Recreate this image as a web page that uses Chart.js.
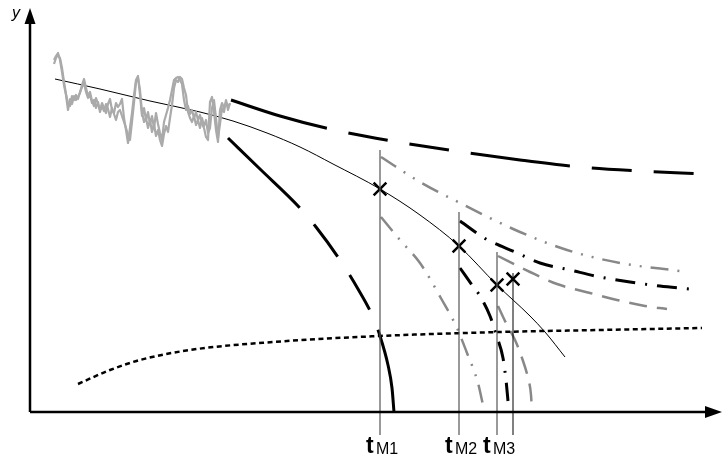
<!DOCTYPE html>
<html>
<head>
<meta charset="utf-8">
<script src="https://cdn.jsdelivr.net/npm/chart.js@4/dist/chart.umd.min.js"></script>
<style>
  html, body { margin: 0; padding: 0; background: #fff; }
  #wrap { width: 724px; height: 462px; }
</style>
</head>
<body>
<div id="wrap"><canvas id="c" width="724" height="462"></canvas></div>
<script>
// Measured history (two gray records), shared time grid
const histT = [24,26,28,30,32,34,36,38,40,42,44,46,48,50,52,54,56,58,60,62,64,66,68,70,72,74,76,78,80,82,84,86,88,90,92,94,96,98,100,102,104,106,108,110,112,114,116,118,120,122,124,126,128,130,132,134,136,138,140,142,144,146,148,150,152,154,156,158,160,162,164,166,168,170,172,174,176,178,180,182,184,186,188,190,192,194,196,198,200];
const histA = [352,356,359,352,340,327,317,302,313,308,316,312,315,319,327,333,324,316,320,311,306,314,308,302,309,304,299,308,313,302,299,309,305,308,313,294,282,269,284,299,317,332,336,317,296,304,292,300,288,296,284,299,288,279,272,290,297,304,312,322,332,334,335,332,328,312,302,306,298,302,294,300,292,297,288,284,275,272,310,315,300,282,270,302,309,304,310,306,308];
const histB = [348,354,357,354,344,330,318,308,306,316,312,317,313,320,325,329,320,314,317,309,312,304,310,300,306,301,308,303,295,304,298,292,300,302,296,290,284,277,272,290,309,330,334,322,300,290,294,284,292,280,288,276,282,272,266,278,286,280,294,307,324,332,330,335,333,324,317,300,294,290,296,287,292,284,294,286,292,279,284,304,312,294,274,288,304,300,312,302,309];

// Fitted trend
const trendT = [25,70,120,170,203,237,270,303,350,390,429,467,500,515,535];
const trendY = [333,323,311,300,291,279,265,248,223,197,166,127,96,80,55];

// Upper and lower envelope from the end of history
const upperT = [201,250,300,362,425,490,550,610,672];
const upperY = [312,296,283,271,261,252,245,241,238];
const lowerT = [198,230,270,286,310,328,342,350,358,362,364];
const lowerY = [274,243,204,185,152,123,97,76,47,24,0];

// Threshold curve
const limitT = [48,80,110,160,243,350,470,570,672];
const limitY = [28,42,52,62,70,76,80,82,84];

// Updates after measurement tM1 (gray dash-dot-dot)
const m1UpT = [351,390,430,490,537,590,650];
const m1UpY = [255,230,209,180,162,149,141];
const m1LoT = [351,370,390,412,427,437,448,454];
const m1LoY = [195,172,149,112,84,59,29,2];

// Updates after measurement tM2 (black dash-dot)
const m2UpT = [430,456,485,510,540,570,600,630,660];
const m2UpY = [191,173,160,149,142,135,130,126,123];
const m2LoT = [430,442,450,460,467,473,476,478];
const m2LoY = [144,127,116,96,75,54,32,11];

// Updates after measurement tM3 (gray dashed)
const m3UpT = [468,500,527,560,587,615,637];
const m3UpY = [156,140,128,119,112,106,103];
const m3LoT = [468,477,485,492,498,501,502];
const m3LoY = [106,87,72,54,34,17,0];

// Measurement points
const measT = [350,429,467,483];
const measY = [223,166,127,133];

// Measurement instants and their markers
const markT = [350,429,467,483];
const markTop = [262,200,160,139];
const markBottom = -23;
const markColor = ['#555','#555','#555','#000'];
const tickT = [350,429,467];
const tickSub = ['M1','M2','M3'];

const xy = (xs, ys) => xs.map((x, i) => ({ x, y: ys[i] }));

function curve(xs, ys, color, width, dash, extra) {
  return Object.assign({
    data: xy(xs, ys),
    borderColor: color,
    borderWidth: width,
    borderDash: dash || [],
    pointRadius: 0,
    fill: false,
    cubicInterpolationMode: 'monotone',
    borderCapStyle: 'butt'
  }, extra || {});
}

const datasets = [];
datasets.push(curve(histT, histA, '#aaa', 2.2, [], { cubicInterpolationMode: 'default', tension: 0, borderJoinStyle: 'round' }));
datasets.push(curve(histT, histB, '#aaa', 2.2, [], { cubicInterpolationMode: 'default', tension: 0, borderJoinStyle: 'round' }));

markT.forEach((t, i) => {
  datasets.push(curve([t, t], [markBottom, markTop[i]], markColor[i], i < 3 ? 1.2 : 1, [], { cubicInterpolationMode: 'default', tension: 0 }));
});

datasets.push(curve(trendT, trendY, '#000', 1));
datasets.push(curve(upperT, upperY, '#000', 3, [100, 22, 40, 22, 40, 22]));
datasets.push(curve(lowerT, lowerY, '#000', 3, [100, 22, 40, 22, 40, 22]));
datasets.push(curve(limitT, limitY, '#000', 2.5, [5, 3.5]));
datasets.push(curve(m1UpT, m1UpY, '#888', 2.5, [18, 9, 2, 9, 2, 9]));
datasets.push(curve(m1LoT, m1LoY, '#888', 2.5, [18, 9, 2, 9, 2, 9]));
datasets.push(curve(m2UpT, m2UpY, '#000', 3, [20, 10, 2, 10]));
datasets.push(curve(m2LoT, m2LoY, '#000', 3, [20, 10, 2, 10]));
datasets.push(curve(m3UpT, m3UpY, '#888', 2.5, [18, 10]));
datasets.push(curve(m3LoT, m3LoY, '#888', 2.5, [18, 10]));

datasets.push({
  data: xy(measT, measY),
  showLine: false,
  pointStyle: 'crossRot',
  pointRadius: 9,
  pointBorderWidth: 2.5,
  pointBorderColor: '#000',
  pointBackgroundColor: '#000'
});

// Arrow axes and labels
const axesPlugin = {
  id: 'arrowAxes',
  afterDatasetsDraw(chart) {
    const { ctx, scales: { x, y } } = chart;
    const ox = x.getPixelForValue(0);
    const oy = y.getPixelForValue(0);
    const xEnd = x.getPixelForValue(x.max) - 2;
    const yEnd = y.getPixelForValue(y.max) + 8;
    ctx.save();
    ctx.strokeStyle = '#000';
    ctx.fillStyle = '#000';
    ctx.lineWidth = 2.5;
    ctx.lineCap = 'butt';
    ctx.beginPath();
    ctx.moveTo(ox, oy);
    ctx.lineTo(xEnd - 14, oy);
    ctx.moveTo(ox, oy);
    ctx.lineTo(ox, yEnd + 14);
    ctx.stroke();
    // arrow heads
    ctx.beginPath();
    ctx.moveTo(xEnd, oy);
    ctx.lineTo(xEnd - 17, oy - 6);
    ctx.lineTo(xEnd - 17, oy + 6);
    ctx.closePath();
    ctx.fill();
    ctx.beginPath();
    ctx.moveTo(ox, yEnd);
    ctx.lineTo(ox - 5.5, yEnd + 16);
    ctx.lineTo(ox + 5.5, yEnd + 16);
    ctx.closePath();
    ctx.fill();

    // axis names
    ctx.font = 'italic 16px "Liberation Sans", Arial, sans-serif';
    ctx.textBaseline = 'alphabetic';
    ctx.textAlign = 'left';
    ctx.fillText('y', ox - 18, yEnd + 10);
    ctx.fillText('t', xEnd + 2, oy + 21);

    // measurement instants
    tickT.forEach((t, i) => {
      const px = x.getPixelForValue(t);
      ctx.font = 'bold 23px "Liberation Sans", Arial, sans-serif';
      ctx.fillText('t', px - 14, oy + 41);
      ctx.font = '16px "Liberation Sans", Arial, sans-serif';
      ctx.fillText(tickSub[i], px - 4, oy + 42);
    });
    ctx.restore();
  }
};

new Chart(document.getElementById('c'), {
  type: 'line',
  data: { datasets },
  options: {
    responsive: false,
    devicePixelRatio: 1,
    animation: false,
    events: [],
    layout: { padding: 0, autoPadding: false },
    plugins: { legend: { display: false }, tooltip: { enabled: false } },
    scales: {
      x: { type: 'linear', min: -30, max: 694, display: false },
      y: { type: 'linear', min: -50, max: 412, display: false }
    }
  },
  plugins: [axesPlugin]
});
</script>
</body>
</html>
